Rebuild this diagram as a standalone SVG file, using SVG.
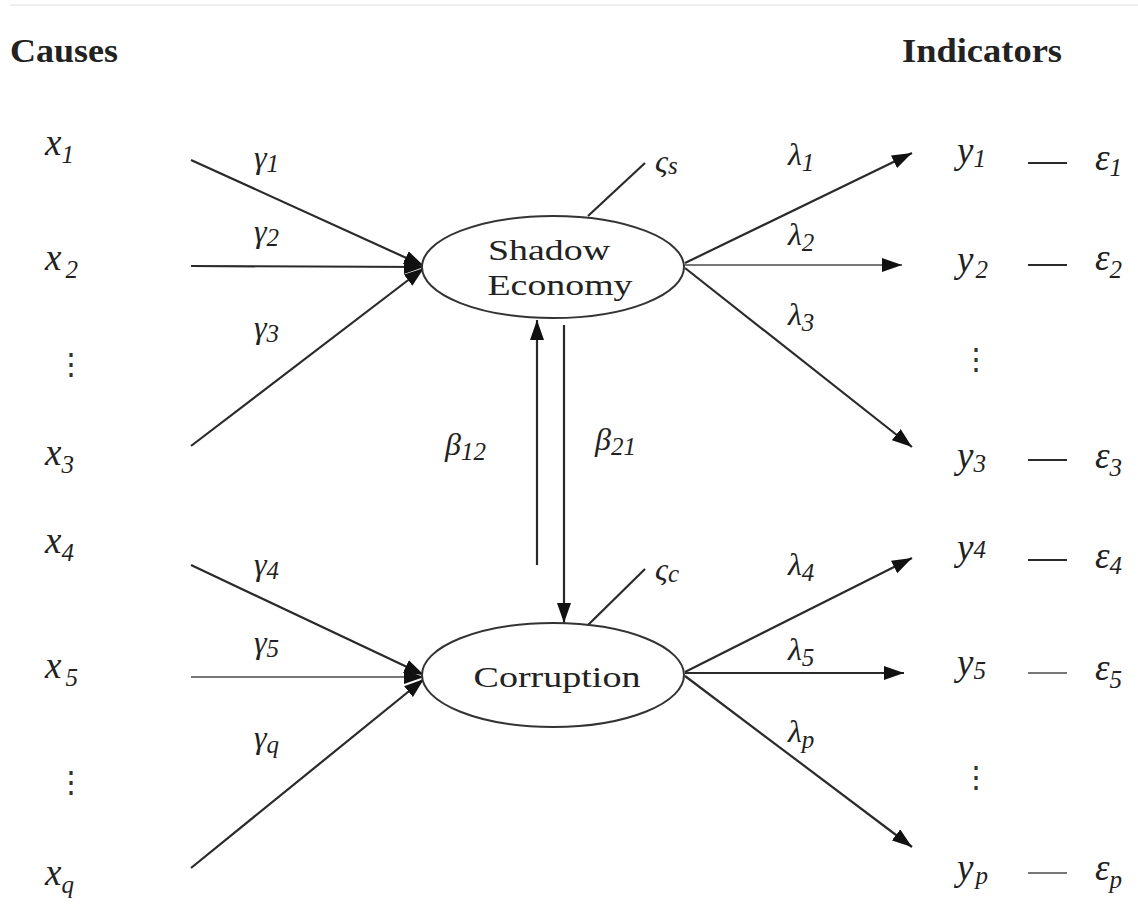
<svg xmlns="http://www.w3.org/2000/svg" width="1138" height="905" viewBox="0 0 1138 905">
<style>
.t{font-family:"Liberation Serif","Times New Roman",serif;fill:#222}
.h{font-size:34px;font-weight:bold}
.v{font-size:37px;font-style:italic}
.g{font-size:32px;font-style:italic}
.s{font-size:25px}
.n{font-size:29px}
.d{font-family:"Liberation Serif",serif;font-size:30px;fill:#333}
.e{stroke:#2a2a2a;stroke-width:2.2;fill:none}
.lt{stroke:#777}
.node{fill:#fff;stroke:#333;stroke-width:2}
</style>
<defs>
<marker id="ah" viewBox="0 0 20 14" refX="20" refY="7" markerWidth="20" markerHeight="14" markerUnits="userSpaceOnUse" orient="auto">
<path d="M0,0 L20,7 L0,14 z" fill="#111"/>
</marker>
</defs>
<rect width="1138" height="905" fill="#fff"/>
<line x1="10" y1="5" x2="1138" y2="5" stroke="#eee" stroke-width="2"/>
<text class="t h" x="10" y="62" textLength="108" lengthAdjust="spacingAndGlyphs">Causes</text>
<text class="t h" x="902" y="62" textLength="160" lengthAdjust="spacingAndGlyphs">Indicators</text>

<g id="connectors">
<line class="e" x1="191" y1="160" x2="424" y2="266" marker-end="url(#ah)"/>
<line class="e" x1="191" y1="266" x2="424" y2="267" marker-end="url(#ah)"/>
<line class="e" x1="191" y1="446" x2="424" y2="268" marker-end="url(#ah)"/>
<line class="e" x1="191" y1="565" x2="424" y2="675" marker-end="url(#ah)"/>
<line class="e lt" x1="191" y1="677" x2="424" y2="677" marker-end="url(#ah)"/>
<line class="e" x1="191" y1="868" x2="424" y2="679" marker-end="url(#ah)"/>
<line class="e" x1="685" y1="263" x2="912" y2="153" marker-end="url(#ah)"/>
<line class="e lt" x1="685" y1="265" x2="902" y2="265" marker-end="url(#ah)"/>
<line class="e" x1="685" y1="268" x2="912" y2="447" marker-end="url(#ah)"/>
<line class="e" x1="685" y1="672" x2="912" y2="558" marker-end="url(#ah)"/>
<line class="e" x1="685" y1="673" x2="904" y2="673" marker-end="url(#ah)"/>
<line class="e" x1="685" y1="676" x2="912" y2="847" marker-end="url(#ah)"/>
<line class="e" x1="537" y1="565" x2="537" y2="320" marker-end="url(#ah)"/>
<line class="e" x1="564" y1="325" x2="564" y2="623" marker-end="url(#ah)"/>
<line class="e" x1="588" y1="216" x2="645" y2="163"/>
<line class="e" x1="588" y1="625" x2="645" y2="569"/>
<line class="e" x1="1028" y1="163" x2="1067" y2="163"/>
<line class="e" x1="1028" y1="265" x2="1067" y2="265"/>
<line class="e" x1="1028" y1="460" x2="1067" y2="460"/>
<line class="e" x1="1028" y1="560" x2="1067" y2="560"/>
<line class="e lt" x1="1028" y1="673" x2="1067" y2="673"/>
<line class="e lt" x1="1028" y1="873" x2="1067" y2="873"/>
</g>

<g id="shadow">
<ellipse class="node" cx="553" cy="267" rx="131" ry="51"/>
<text class="t n" x="549" y="260" text-anchor="middle" textLength="122" lengthAdjust="spacingAndGlyphs">Shadow</text>
<text class="t n" x="560" y="295" text-anchor="middle" textLength="145" lengthAdjust="spacingAndGlyphs">Economy</text>
</g>
<g id="corruption">
<ellipse class="node" cx="553" cy="675" rx="131" ry="52"/>
<text class="t n" x="557" y="687" text-anchor="middle" textLength="167" lengthAdjust="spacingAndGlyphs">Corruption</text>
</g>

<g id="causes">
<text class="t v" x="45" y="155">x<tspan class="s" dy="8">1</tspan></text>
<text class="t v" x="45" y="270">x<tspan class="s" dx="4" dy="8">2</tspan></text>
<text class="d" x="56" y="374">⋮</text>
<text class="t v" x="45" y="465">x<tspan class="s" dy="8">3</tspan></text>
<text class="t v" x="45" y="553">x<tspan class="s" dy="8">4</tspan></text>
<text class="t v" x="45" y="678">x<tspan class="s" dx="4" dy="8">5</tspan></text>
<text class="d" x="56" y="792">⋮</text>
<text class="t v" x="45" y="885">x<tspan class="s" dy="8">q</tspan></text>
</g>

<g id="gammas">
<text class="t g" x="254" y="168">γ<tspan class="s" dy="4">1</tspan></text>
<text class="t g" x="254" y="242">γ<tspan class="s" dy="4">2</tspan></text>
<text class="t g" x="254" y="338">γ<tspan class="s" dy="4">3</tspan></text>
<text class="t g" x="254" y="575">γ<tspan class="s" dy="4">4</tspan></text>
<text class="t g" x="254" y="653">γ<tspan class="s" dy="4">5</tspan></text>
<text class="t g" x="254" y="748">γ<tspan class="s" dy="5">q</tspan></text>
</g>

<g id="betas">
<text class="t g" x="445" y="455">β<tspan class="s" dy="5">12</tspan></text>
<text class="t g" x="595" y="450">β<tspan class="s" dy="5">21</tspan></text>
</g>

<g id="zetas">
<text class="t g" x="655" y="172">ς<tspan class="s" dy="2">s</tspan></text>
<text class="t g" x="655" y="580">ς<tspan class="s" dy="2">c</tspan></text>
</g>

<g id="lambdas">
<text class="t g" x="788" y="165">λ<tspan class="s" dy="6">1</tspan></text>
<text class="t g" x="788" y="245">λ<tspan class="s" dy="6">2</tspan></text>
<text class="t g" x="788" y="325">λ<tspan class="s" dy="6">3</tspan></text>
<text class="t g" x="788" y="575">λ<tspan class="s" dy="6">4</tspan></text>
<text class="t g" x="788" y="660">λ<tspan class="s" dy="6">5</tspan></text>
<text class="t g" x="788" y="742">λ<tspan class="s" dy="6">p</tspan></text>
</g>

<g id="indicators">
<text class="t v" x="957" y="163">y<tspan class="s" dy="4">1</tspan></text>
<text class="t v" x="957" y="272">y<tspan class="s" dx="2" dy="6">2</tspan></text>
<text class="d" x="961" y="369">⋮</text>
<text class="t v" x="957" y="468">y<tspan class="s" dy="4">3</tspan></text>
<text class="t v" x="957" y="560">y<tspan class="s" dy="-2">4</tspan></text>
<text class="t v" x="957" y="675">y<tspan class="s" dy="4">5</tspan></text>
<text class="d" x="961" y="787">⋮</text>
<text class="t v" x="957" y="880">y<tspan class="s" dx="2" dy="4">p</tspan></text>
</g>

<g id="errors">
<text class="t v" x="1095" y="170">ε<tspan class="s" dy="6">1</tspan></text>
<text class="t v" x="1095" y="270">ε<tspan class="s" dy="8">2</tspan></text>
<text class="t v" x="1095" y="468">ε<tspan class="s" dy="8">3</tspan></text>
<text class="t v" x="1095" y="568">ε<tspan class="s" dy="6">4</tspan></text>
<text class="t v" x="1095" y="680">ε<tspan class="s" dy="8">5</tspan></text>
<text class="t v" x="1095" y="880">ε<tspan class="s" dy="8">p</tspan></text>
</g>
</svg>
